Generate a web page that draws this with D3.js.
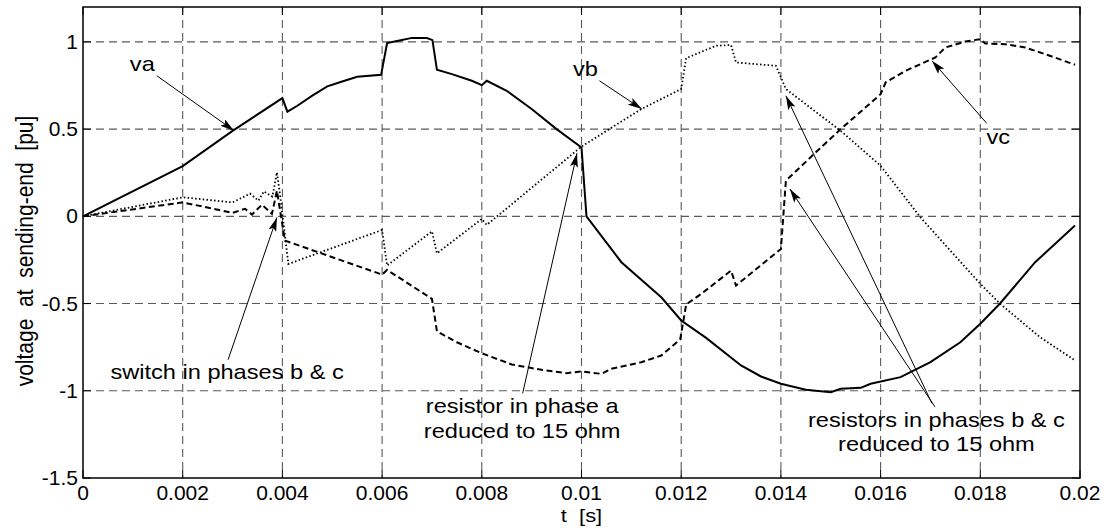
<!DOCTYPE html>
<html>
<head>
<meta charset="utf-8">
<script src="https://cdn.jsdelivr.net/npm/d3@7/dist/d3.min.js"></script>
<style>
  html, body { margin: 0; padding: 0; background: #fff; }
  svg { display: block; }
  text { font-family: "Liberation Sans", Arial, Helvetica, sans-serif; fill: #000; }
</style>
</head>
<body>
<svg id="chart" width="1106" height="528"></svg>
<script>
// ---------------- data ----------------
const xTicks = [0, 0.002, 0.004, 0.006, 0.008, 0.01, 0.012, 0.014, 0.016, 0.018, 0.02];
const xTickLabels = ["0", "0.002", "0.004", "0.006", "0.008", "0.01", "0.012", "0.014", "0.016", "0.018", "0.02"];
const yTicks = [-1.5, -1, -0.5, 0, 0.5, 1];
const yTickLabels = ["-1.5", "-1", "-0.5", "0", "0.5", "1"];

const tA = [0, 0.002, 0.003, 0.004, 0.0041, 0.0043, 0.0046, 0.0049, 0.0052, 0.0055, 0.00598, 0.0061, 0.0063, 0.0066, 0.0069, 0.00701, 0.0071, 0.0074, 0.0078, 0.008, 0.0081, 0.0085, 0.009, 0.0095, 0.01, 0.0101, 0.0108, 0.0116, 0.012, 0.0125, 0.0132, 0.0136, 0.014, 0.0145, 0.015, 0.0152, 0.0156, 0.0158, 0.0164, 0.017, 0.0176, 0.018, 0.0184, 0.0191, 0.0199];
const va = [0, 0.288, 0.49, 0.678, 0.60, 0.634, 0.692, 0.745, 0.773, 0.80, 0.811, 0.993, 1.005, 1.023, 1.022, 1.01, 0.84, 0.815, 0.777, 0.752, 0.777, 0.72, 0.615, 0.50, 0.395, 0.0, -0.263, -0.464, -0.597, -0.697, -0.855, -0.918, -0.96, -0.994, -1.008, -0.989, -0.983, -0.96, -0.922, -0.836, -0.722, -0.616, -0.498, -0.263, -0.053];

const tB = [0, 0.002, 0.003, 0.00335, 0.00352, 0.00363, 0.0038, 0.00389, 0.00395, 0.00412, 0.006, 0.0061, 0.007, 0.0071, 0.008, 0.0081, 0.01, 0.0112, 0.012, 0.0121, 0.0127, 0.013, 0.0131, 0.0139, 0.0141, 0.0148, 0.0152, 0.016, 0.0168, 0.0177, 0.018, 0.0184, 0.0192, 0.0199];
const vb = [0, 0.109, 0.08, 0.13, 0.09, 0.143, 0.113, 0.252, 0.128, -0.273, -0.078, -0.282, -0.086, -0.212, -0.015, -0.049, 0.40, 0.615, 0.73, 0.907, 0.978, 0.982, 0.882, 0.863, 0.73, 0.577, 0.49, 0.29, -0.006, -0.292, -0.387, -0.502, -0.693, -0.826];

const tC = [0, 0.002, 0.003, 0.00325, 0.00339, 0.00359, 0.00379, 0.00389, 0.00405, 0.006, 0.0061, 0.007, 0.0071, 0.0075, 0.008, 0.0086, 0.0092, 0.0097, 0.01, 0.0104, 0.0106, 0.0112, 0.0116, 0.01198, 0.0121, 0.0124, 0.013, 0.0131, 0.014, 0.0141, 0.0147, 0.0152, 0.016, 0.0161, 0.0165, 0.0171, 0.0173, 0.0177, 0.018, 0.0181, 0.0185, 0.0189, 0.0193, 0.0199];
const vc = [0, 0.08, 0.02, 0.043, 0.01, 0.067, 0.014, 0.147, -0.139, -0.334, -0.307, -0.473, -0.659, -0.722, -0.785, -0.849, -0.88, -0.899, -0.889, -0.903, -0.874, -0.836, -0.798, -0.705, -0.505, -0.445, -0.311, -0.397, -0.187, 0.204, 0.367, 0.50, 0.70, 0.767, 0.834, 0.911, 0.968, 1.002, 1.016, 0.991, 0.987, 0.968, 0.93, 0.869];

// annotations (data coordinates)
const labelTexts = [["va"], ["vb"], ["vc"], ["switch in phases b & c"], ["resistor in phase a", "reduced to 15 ohm"], ["resistors in phases b & c", "reduced to 15 ohm"]];
const labelT = [0.00119, 0.01008, 0.01836, 0.00289, 0.00881, 0.01712];
const labelV = [0.834, 0.806, 0.415, -0.935, -1.13, -1.205];
const arrowFromT = [0.00148, 0.01036, 0.01813, 0.00291, 0.00882, 0.01703, 0.01709];
const arrowFromV = [0.806, 0.777, 0.533, -0.822, -1.014, -1.072, -1.092];
const arrowToT = [0.00303, 0.01121, 0.01703, 0.00389, 0.00991, 0.0141, 0.01418];
const arrowToV = [0.491, 0.615, 0.892, -0.006, 0.362, 0.691, 0.157];

// ---------------- layout ----------------
const svg = d3.select("#chart");
const L = 83, R = 1080, T = 7, B = 478;
const x = d3.scaleLinear().domain([0, 0.02]).range([L, R]);
const y = d3.scaleLinear().domain([-1.5, 1.2]).range([B, T]);
const FONT = 20, SX = 1.18;

svg.append("defs").append("marker")
  .attr("id", "ah").attr("markerUnits", "userSpaceOnUse")
  .attr("viewBox", "0 0 14 8").attr("refX", 14).attr("refY", 4)
  .attr("markerWidth", 14).attr("markerHeight", 8).attr("orient", "auto")
  .append("path").attr("d", "M0,0 L14,4 L0,8 L3,4 Z").attr("fill", "#000");

// grid
const grid = svg.append("g").attr("stroke", "#5a5a5a").attr("stroke-width", 1.1).attr("stroke-dasharray", "8,5");
grid.selectAll("line.gx").data(xTicks.slice(1, -1)).enter().append("line")
  .attr("x1", d => x(d)).attr("x2", d => x(d)).attr("y1", T).attr("y2", B);
grid.selectAll("line.gy").data(yTicks.slice(1)).enter().append("line")
  .attr("x1", L).attr("x2", R).attr("y1", d => y(d)).attr("y2", d => y(d));

// ticks (inside, all four sides)
const tk = svg.append("g").attr("stroke", "#000").attr("stroke-width", 1);
xTicks.forEach(d => {
  tk.append("line").attr("x1", x(d)).attr("x2", x(d)).attr("y1", B).attr("y2", B - 8);
  tk.append("line").attr("x1", x(d)).attr("x2", x(d)).attr("y1", T).attr("y2", T + 8);
});
yTicks.forEach(d => {
  tk.append("line").attr("x1", L).attr("x2", L + 8).attr("y1", y(d)).attr("y2", y(d));
  tk.append("line").attr("x1", R).attr("x2", R - 8).attr("y1", y(d)).attr("y2", y(d));
});

// tick labels
xTicks.forEach((d, i) => {
  svg.append("text").attr("transform", `translate(${x(d)},${B + 22}) scale(1.05,1)`)
    .attr("text-anchor", "middle").attr("font-size", FONT).text(xTickLabels[i]);
});
yTicks.forEach((d, i) => {
  svg.append("text").attr("transform", `translate(${L - 5},${y(d) + 7}) scale(1.05,1)`)
    .attr("text-anchor", "end").attr("font-size", FONT).text(yTickLabels[i]);
});

// axis labels
svg.append("text").attr("transform", `translate(${(L + R) / 2},${522}) scale(1.15,1)`)
  .attr("text-anchor", "middle").attr("font-size", 19)
  .style("white-space", "pre").text("t  [s]");
svg.append("text").attr("transform", `translate(33,${251}) rotate(-90) scale(1,1.15)`)
  .attr("text-anchor", "middle").attr("font-size", 21)
  .style("white-space", "pre").text("voltage  at  sending-end  [pu]");

// curves
const line = d3.line().x(d => x(d[0])).y(d => y(d[1]));
const mk = (ts, vs) => ts.map((t, i) => [t, vs[i]]);
svg.append("path").datum(mk(tC, vc)).attr("d", line).attr("fill", "none")
  .attr("stroke", "#000").attr("stroke-width", 2).attr("stroke-dasharray", "6,3.5");
svg.append("path").datum(mk(tB, vb)).attr("d", line).attr("fill", "none")
  .attr("stroke", "#000").attr("stroke-width", 1.8).attr("stroke-dasharray", "1.5,2.3");
svg.append("path").datum(mk(tA, va)).attr("d", line).attr("fill", "none")
  .attr("stroke", "#000").attr("stroke-width", 2);

// arrows
arrowFromT.forEach((t, i) => {
  svg.append("line").attr("x1", x(t)).attr("y1", y(arrowFromV[i]))
    .attr("x2", x(arrowToT[i])).attr("y2", y(arrowToV[i]))
    .attr("stroke", "#000").attr("stroke-width", 1).attr("marker-end", "url(#ah)");
});

// annotation labels
labelTexts.forEach((lines, i) => {
  lines.forEach((s, j) => {
    svg.append("text")
      .attr("transform", `translate(${x(labelT[i])},${y(labelV[i]) + j * 24.5}) scale(${SX},1)`)
      .attr("text-anchor", "middle").attr("font-size", FONT).text(s);
  });
});

// frame
svg.append("rect").attr("x", L).attr("y", T).attr("width", R - L).attr("height", B - T)
  .attr("fill", "none").attr("stroke", "#000").attr("stroke-width", 1.5);
</script>
</body>
</html>
